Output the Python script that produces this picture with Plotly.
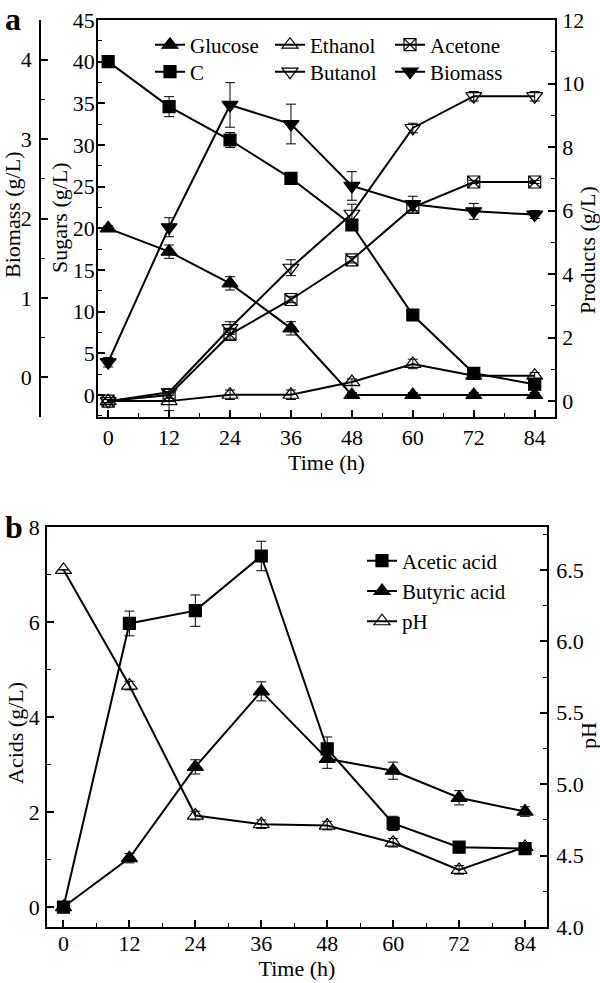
import plotly.graph_objects as go

# time points (h)
time = [0, 12, 24, 36, 48, 60, 72, 84]

# panel a - sugars (g/L)
glucose = [20.0, 17.2, 13.4, 8.0, 0.0, 0.0, 0.0, 0.0]
glucose_err = [0.3, 0.8, 0.8, 0.8, 0.3, 0.3, 0.3, 0.3]
c_sugar = [40.0, 34.6, 30.6, 26.0, 20.4, 9.6, 2.6, 1.3]
c_err = [0.2, 1.2, 0.9, 0.7, 0.5, 0.3, 0.3, 0.3]

# panel a - products (g/L)
ethanol = [0.0, 0.0, 0.2, 0.2, 0.6, 1.17, 0.8, 0.8]
ethanol_err = [0.05, 0.3, 0.15, 0.15, 0.1, 0.15, 0.1, 0.1]
butanol = [0.0, 0.28, 2.3, 4.2, 5.9, 8.6, 9.6, 9.6]
butanol_err = [0.05, 0.1, 0.2, 0.25, 0.3, 0.15, 0.15, 0.15]
acetone = [0.0, 0.19, 2.1, 3.2, 4.45, 6.1, 6.9, 6.9]
acetone_err = [0.05, 0.1, 0.15, 0.1, 0.1, 0.1, 0.05, 0.05]

# panel a - biomass (g/L)
biomass = [0.19, 1.89, 3.43, 3.19, 2.41, 2.18, 2.09, 2.05]
biomass_err = [0.06, 0.12, 0.28, 0.25, 0.18, 0.1, 0.1, 0.05]

# panel b - acids (g/L) and pH
acetic = [0.0, 5.97, 6.24, 7.39, 3.33, 1.76, 1.26, 1.23]
acetic_err = [0.03, 0.26, 0.33, 0.31, 0.25, 0.15, 0.05, 0.05]
butyric = [0.0, 1.03, 2.95, 4.54, 3.12, 2.87, 2.30, 2.01]
butyric_err = [0.03, 0.1, 0.15, 0.2, 0.2, 0.18, 0.15, 0.1]
ph = [6.5, 5.69, 4.78, 4.72, 4.71, 4.59, 4.40, 4.56]
ph_err = [0.0, 0.03, 0.03, 0.03, 0.03, 0.03, 0.03, 0.03]

FONT = "Liberation Serif"
FS = 22
LFS = 21
W, H = 600, 983


def fx(x):
    return x / W


def fy(y):
    return 1 - y / H


def err(a):
    return dict(type='data', array=a, color='black', thickness=1, width=5)


def series(x, y, e, name, symbol, size, xaxis, yaxis, legend):
    return go.Scatter(
        x=x, y=y, name=name, mode='lines+markers',
        xaxis=xaxis, yaxis=yaxis, legend=legend,
        line=dict(color='black', width=2),
        marker=dict(symbol=symbol, size=size, color='black',
                    line=dict(color='black', width=1.2)),
        error_y=err(e),
    )


fig = go.Figure()

# panel a
fig.add_trace(series(time, glucose, glucose_err, 'Glucose', 'triangle-up', 14, 'x', 'y', 'legend'))
fig.add_trace(series(time, ethanol, ethanol_err, 'Ethanol', 'triangle-up-open', 14, 'x', 'y2', 'legend'))
fig.add_trace(series(time, acetone, acetone_err, 'Acetone', 'square-x-open', 12, 'x', 'y2', 'legend'))
fig.add_trace(series(time, c_sugar, c_err, 'C', 'square', 12, 'x', 'y', 'legend2'))
fig.add_trace(series(time, butanol, butanol_err, 'Butanol', 'triangle-down-open', 14, 'x', 'y2', 'legend2'))
fig.add_trace(series(time, biomass, biomass_err, 'Biomass', 'triangle-down', 14, 'x', 'y3', 'legend2'))

# panel b
fig.add_trace(series(time, acetic, acetic_err, 'Acetic acid', 'square', 12, 'x2', 'y4', 'legend3'))
fig.add_trace(series(time, butyric, butyric_err, 'Butyric acid', 'triangle-up', 14, 'x2', 'y4', 'legend3'))
fig.add_trace(series(time, ph, ph_err, 'pH', 'triangle-up-open', 14, 'x2', 'y5', 'legend3'))

tickfont = dict(family=FONT, size=FS, color='black')

common = dict(showline=True, linecolor='black', linewidth=1.5, ticks='inside',
              ticklen=7, tickwidth=1.5, tickcolor='black', tickfont=tickfont,
              showgrid=False, zeroline=False, ticklabeloverflow='allow')


def minor(d):
    return dict(ticks='inside', dtick=d, ticklen=4, tickwidth=1.2, tickcolor='black')


def label(text, x, y, angle=0, size=FS, bold=False):
    return dict(text='<b>%s</b>' % text if bold else text, x=fx(x), y=fy(y),
                xref='paper', yref='paper', xanchor='center', yanchor='middle',
                showarrow=False, textangle=angle,
                font=dict(family=FONT, size=size, color='black'))


legend_style = dict(bgcolor='rgba(0,0,0,0)', borderwidth=0,
                    font=dict(family=FONT, size=LFS, color='black'), itemwidth=30)

fig.update_layout(
    width=W, height=H,
    margin=dict(l=0, r=0, t=0, b=0, autoexpand=False),
    paper_bgcolor='white', plot_bgcolor='white',
    font=dict(family=FONT, size=FS, color='black'),
    xaxis=dict(domain=(fx(98), fx(555)), anchor='y', range=[-2, 88], tickvals=time,
               mirror=True, minor=minor(6), ticklabelstandoff=0,
               title=dict(text='Time (h)', font=tickfont, standoff=2), **common),
    yaxis=dict(domain=(fy(417), fy(20)), anchor='x', range=[-2.64, 45], dtick=5,
               minor=minor(2.5), ticklabelstandoff=-3, **common),
    yaxis2=dict(overlaying='y', anchor='x', side='right', range=[-0.5, 12], dtick=2,
                minor=minor(1), ticklabelstandoff=1, **common),
    yaxis3=dict(overlaying='y', anchor='free', position=fx(40), side='left',
                range=[-0.5, 4.5], dtick=1, minor=minor(0.5), ticklabelstandoff=3, **common),
    xaxis2=dict(domain=(fx(47), fx(547)), anchor='y4', range=[-3, 88], tickvals=time,
                mirror=True, minor=minor(6), ticklabelstandoff=-4,
                title=dict(text='Time (h)', font=tickfont, standoff=3), **common),
    yaxis4=dict(domain=(fy(927), fy(527)), anchor='x2', range=[-0.42, 8], dtick=2,
                minor=minor(1), ticklabelstandoff=1, **common),
    yaxis5=dict(overlaying='y4', anchor='x2', side='right', range=[4.0, 6.8], dtick=0.5,
                tickformat='.1f', minor=minor(0.25), ticklabelstandoff=3, **common),
    legend=dict(orientation='h', x=fx(150), y=fy(45), xanchor='left', yanchor='middle',
                entrywidth=75, **legend_style),
    legend2=dict(orientation='h', x=fx(150), y=fy(72), xanchor='left', yanchor='middle',
                 entrywidth=75, **legend_style),
    legend3=dict(x=fx(362), y=fy(591), xanchor='left', yanchor='middle',
                 tracegroupgap=0, **legend_style),
    annotations=[
        label('a', 13, 19, size=32, bold=True),
        label('b', 14, 527, size=32, bold=True),
        label('Biomass (g/L)', 12, 215, angle=-90),
        label('Sugars (g/L)', 60, 218, angle=-90),
        label('Products (g/L)', 587, 250, angle=-90),
        label('Acids (g/L)', 15, 733, angle=-90),
        label('pH', 588, 736, angle=-90),
    ],
)

# browsers give the page body an 8px margin; drop it so the figure fills the window
fig.write_html("out.html", config={'displayModeBar': False},
               post_script="document.body.style.margin = '0';")
